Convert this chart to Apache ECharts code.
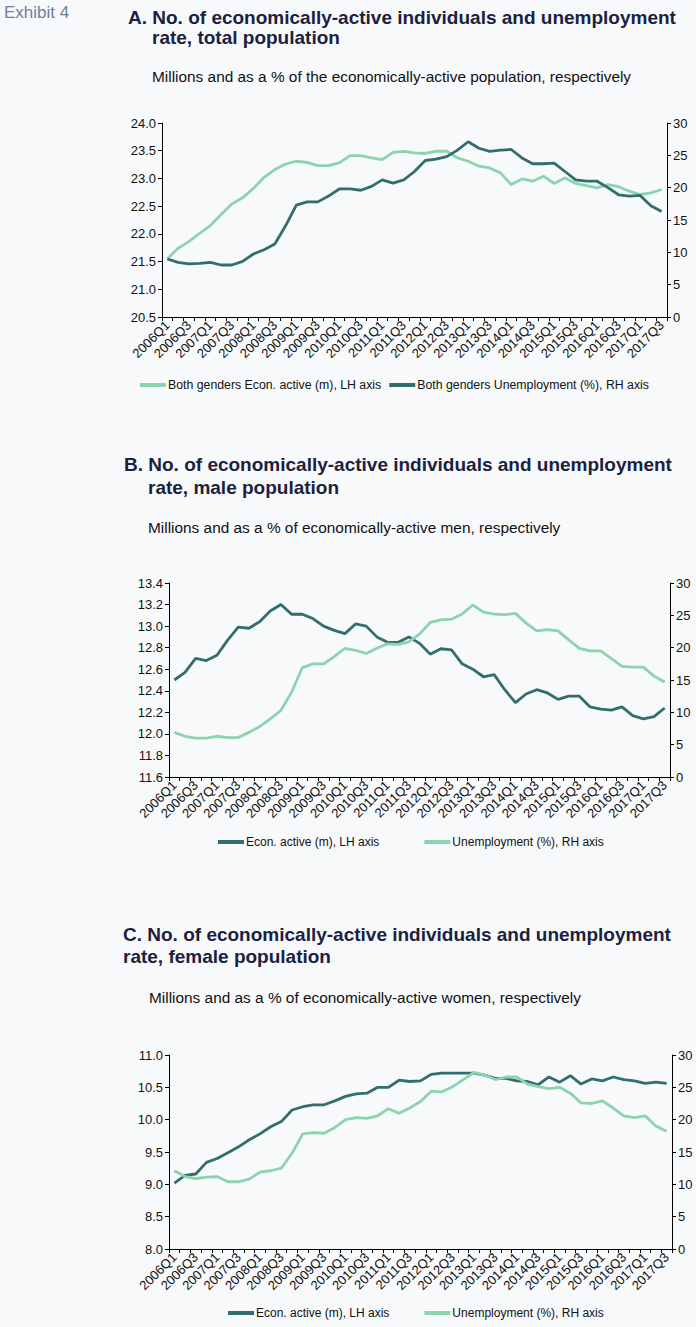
<!DOCTYPE html>
<html>
<head>
<meta charset="utf-8">
<script src="https://cdn.jsdelivr.net/npm/echarts@6/dist/echarts.min.js"></script>
<style>
html,body{margin:0;padding:0;background:#f7f9fb;}
#chart{width:696px;height:1327px;}
</style>
</head>
<body>
<div id="chart"></div>
<script>
var categories = ["2006Q1","2006Q2","2006Q3","2006Q4","2007Q1","2007Q2","2007Q3","2007Q4",
"2008Q1","2008Q2","2008Q3","2008Q4","2009Q1","2009Q2","2009Q3","2009Q4",
"2010Q1","2010Q2","2010Q3","2010Q4","2011Q1","2011Q2","2011Q3","2011Q4",
"2012Q1","2012Q2","2012Q3","2012Q4","2013Q1","2013Q2","2013Q3","2013Q4",
"2014Q1","2014Q2","2014Q3","2014Q4","2015Q1","2015Q2","2015Q3","2015Q4",
"2016Q1","2016Q2","2016Q3","2016Q4","2017Q1","2017Q2","2017Q3"];

var totalActive = [21.55,21.74,21.86,22.01,22.15,22.35,22.54,22.65,22.82,23.02,23.16,23.26,23.31,23.29,23.23,23.23,
23.28,23.41,23.41,23.37,23.34,23.47,23.49,23.46,23.45,23.49,23.49,23.37,23.31,23.22,23.19,23.10,
22.89,22.99,22.95,23.04,22.91,23.01,22.91,22.87,22.83,22.89,22.85,22.77,22.71,22.74,22.80];
var totalUnemp = [8.97,8.45,8.2,8.3,8.45,8.04,8.04,8.6,9.74,10.4,11.3,14.1,17.3,17.8,17.8,18.7,
19.8,19.8,19.6,20.2,21.2,20.7,21.2,22.5,24.2,24.4,24.8,25.8,27.1,26.1,25.6,25.8,
25.9,24.6,23.7,23.7,23.8,22.5,21.2,21.0,21.0,20.0,18.9,18.7,18.8,17.2,16.3];

var maleActive = [12.50,12.57,12.70,12.68,12.73,12.87,12.99,12.98,13.04,13.14,13.20,13.11,13.11,13.07,13.00,12.96,
12.93,13.02,13.00,12.90,12.85,12.85,12.90,12.84,12.74,12.79,12.78,12.65,12.60,12.53,12.55,12.41,
12.29,12.37,12.41,12.38,12.32,12.35,12.35,12.25,12.23,12.22,12.25,12.17,12.14,12.16,12.24];
var maleUnemp = [6.9,6.3,6.0,6.0,6.3,6.1,6.1,6.9,7.8,9.0,10.3,13.1,16.9,17.5,17.5,18.6,
19.9,19.6,19.1,19.9,20.6,20.5,20.9,22.1,23.9,24.3,24.4,25.2,26.6,25.5,25.2,25.1,
25.3,23.8,22.6,22.8,22.6,21.2,19.9,19.5,19.5,18.3,17.1,17.0,17.0,15.6,14.7];

var femaleActive = [9.02,9.14,9.16,9.34,9.40,9.49,9.58,9.69,9.78,9.89,9.97,10.15,10.20,10.23,10.23,10.29,
10.36,10.40,10.41,10.50,10.50,10.61,10.59,10.60,10.70,10.72,10.72,10.72,10.72,10.69,10.64,10.64,
10.60,10.59,10.54,10.66,10.58,10.68,10.55,10.63,10.60,10.66,10.62,10.60,10.56,10.58,10.56];
var femaleUnemp = [12.1,11.2,10.9,11.1,11.2,10.4,10.4,10.8,11.9,12.1,12.5,14.8,17.8,18.0,17.9,18.8,
20.0,20.3,20.2,20.6,21.7,21.0,21.8,22.8,24.4,24.3,25.1,26.2,27.3,26.9,26.2,26.6,
26.6,25.5,25.1,24.8,25.0,24.1,22.6,22.5,22.9,21.8,20.6,20.3,20.6,19.0,18.2];

var DARK = '#336e6e';
var LIGHT = '#8dd3ad';
var FONT = '"Liberation Sans", Arial, sans-serif';
var TITLE_COLOR = '#1b2140';

var chart = echarts.init(document.getElementById('chart'), null, {renderer: 'svg'});

function titleItem(text, left, top, size, bold, color) {
  return {text: text, left: left, top: top, padding: 0,
    textStyle: {fontFamily: FONT, fontSize: size, fontWeight: bold ? 'bold' : 'normal', color: color}};
}

var grids = [
  {left: 162, right: 29, top: 123, height: 194},
  {left: 169, right: 26, top: 583, height: 194},
  {left: 169, right: 24, top: 1055, height: 194}
];

function xAxisFor(g) {
  return {
    type: 'category', gridIndex: g, data: categories, boundaryGap: true,
    axisLine: {lineStyle: {color: '#000', width: 1}},
    axisTick: {show: true, interval: 0, length: 4, lineStyle: {color: '#000'}},
    axisLabel: {interval: 1, rotate: 45, fontFamily: FONT, fontSize: 13, color: '#111', margin: 6}
  };
}
function yAxisFor(g, pos, min, max, interval, dec) {
  return {
    type: 'value', gridIndex: g, position: pos, min: min, max: max, interval: interval,
    splitLine: {show: false},
    axisLine: {show: true, lineStyle: {color: '#000', width: 1}},
    axisTick: {show: true, length: 4, lineStyle: {color: '#000'}},
    axisLabel: {fontFamily: FONT, fontSize: 13, color: '#111', margin: 6,
      formatter: function (v) { return v.toFixed(dec); }}
  };
}
function lineSeries(name, data, color, xi, yi) {
  return {name: name, type: 'line', data: data, xAxisIndex: xi, yAxisIndex: yi,
    symbol: 'none', smooth: false, animation: false,
    lineStyle: {color: color, width: 2.8}, itemStyle: {color: color}};
}
function legendFor(names, left, top, gap, size) {
  return {data: names, left: left, top: top, orient: 'horizontal', itemGap: gap,
    icon: 'rect', itemWidth: 26, itemHeight: 4, padding: 0,
    textStyle: {fontFamily: FONT, fontSize: size, color: '#111', padding: [0, 0, 0, -3]}};
}

var option = {
  backgroundColor: '#f7f9fb',
  animation: false,
  title: [
    titleItem('Exhibit 4', 4, 4, 17, false, '#6e819c'),
    titleItem('A. No. of economically-active individuals and unemployment', 128, 8, 19, true, TITLE_COLOR),
    titleItem('rate, total population', 152, 28, 19, true, TITLE_COLOR),
    titleItem('Millions and as a % of the economically-active population, respectively', 152, 69, 15.4, false, '#111'),
    titleItem('B. No. of economically-active individuals and unemployment', 124, 455, 19, true, TITLE_COLOR),
    titleItem('rate, male population', 148, 478, 19, true, TITLE_COLOR),
    titleItem('Millions and as a % of economically-active men, respectively', 148, 520, 15.4, false, '#111'),
    titleItem('C. No. of economically-active individuals and unemployment', 123, 925, 19, true, TITLE_COLOR),
    titleItem('rate, female population', 123, 947, 19, true, TITLE_COLOR),
    titleItem('Millions and as a % of economically-active women, respectively', 149, 990, 15.4, false, '#111')
  ],
  legend: [
    legendFor(['Both genders Econ. active (m), LH axis', 'Both genders Unemployment (%), RH axis'], 140, 379, 8, 12.3),
    legendFor(['Econ. active (m), LH axis', 'Unemployment (%), RH axis'], 218, 836, 45, 12),
    legendFor(['Econ. active (m), LH axis', 'Unemployment (%), RH axis'], 228, 1307, 35, 12)
  ],
  grid: grids,
  xAxis: [xAxisFor(0), xAxisFor(1), xAxisFor(2)],
  yAxis: [
    yAxisFor(0, 'left', 20.5, 24, 0.5, 1),
    yAxisFor(0, 'right', 0, 30, 5, 0),
    yAxisFor(1, 'left', 11.6, 13.4, 0.2, 1),
    yAxisFor(1, 'right', 0, 30, 5, 0),
    yAxisFor(2, 'left', 8, 11, 0.5, 1),
    yAxisFor(2, 'right', 0, 30, 5, 0)
  ],
  series: [
    lineSeries('Both genders Econ. active (m), LH axis', totalActive, LIGHT, 0, 0),
    lineSeries('Both genders Unemployment (%), RH axis', totalUnemp, DARK, 0, 1),
    lineSeries('Econ. active (m), LH axis', maleActive, DARK, 1, 2),
    lineSeries('Unemployment (%), RH axis', maleUnemp, LIGHT, 1, 3),
    lineSeries('Econ. active (m), LH axis', femaleActive, DARK, 2, 4),
    lineSeries('Unemployment (%), RH axis', femaleUnemp, LIGHT, 2, 5)
  ]
};
chart.setOption(option);
</script>
</body>
</html>
